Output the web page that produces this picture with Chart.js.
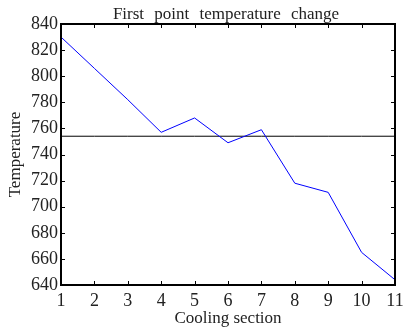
<!DOCTYPE html>
<html>
<head>
<meta charset="utf-8">
<script src="https://cdn.jsdelivr.net/npm/chart.js@4.4.1/dist/chart.umd.min.js"></script>
<style>
  html, body { margin: 0; padding: 0; background: #fff; }
  #wrap { width: 413px; height: 329px; }
</style>
</head>
<body>
<div id="wrap"><canvas id="myChart" width="413" height="329"></canvas></div>
<script>
// cooling sections and measured temperature of the first point
var sections = [1, 2, 3, 4, 5, 6, 7, 8, 9, 10, 11];
var temps = [830, 806, 782, 757, 768, 749, 759, 718, 711, 665, 644];
var refLevel = 754;
var yTicks = [640, 660, 680, 700, 720, 740, 760, 780, 800, 820, 840];
var titleText = 'First point temperature change';

var serif = "'Liberation Serif', 'DejaVu Serif', serif";

// frame round the plot plus inward ticks on all four sides, and the title
// centred over the plot area (matplotlib style)
var frameTicks = {
    id: 'frameTicks',
    afterDraw: function (chart) {
        var ctx = chart.ctx;
        var a = chart.chartArea;
        var xs = chart.scales.x, ys = chart.scales.y;
        var len = 4;
        ctx.save();
        ctx.strokeStyle = '#000';
        ctx.lineWidth = 1;
        ctx.beginPath();
        sections.forEach(function (v) {
            var px = Math.round(xs.getPixelForValue(v)) + 0.5;
            ctx.moveTo(px, a.bottom); ctx.lineTo(px, a.bottom - len);
            ctx.moveTo(px, a.top); ctx.lineTo(px, a.top + len);
        });
        yTicks.forEach(function (v) {
            var py = Math.round(ys.getPixelForValue(v)) + 0.5;
            ctx.moveTo(a.left, py); ctx.lineTo(a.left + len, py);
            ctx.moveTo(a.right, py); ctx.lineTo(a.right - len, py);
        });
        ctx.stroke();
        ctx.lineWidth = 2;
        ctx.strokeRect(a.left, a.top, a.right - a.left, a.bottom - a.top);

        ctx.fillStyle = '#222';
        ctx.font = '17px ' + serif;
        ctx.textAlign = 'center';
        ctx.textBaseline = 'alphabetic';
        if ('wordSpacing' in ctx) ctx.wordSpacing = '6px';
        ctx.fillText(titleText, (a.left + a.right) / 2 - 2, 19);
        ctx.restore();
    }
};

var ctx = document.getElementById('myChart').getContext('2d');
var chart = new Chart(ctx, {
    type: 'line',
    data: {
        datasets: [{
            label: 'Temperature',
            data: sections.map(function (s, i) { return { x: s, y: temps[i] }; }),
            borderColor: '#0000ff',
            borderWidth: 1,
            pointRadius: 0,
            tension: 0,
            fill: false
        }, {
            label: 'Reference',
            data: sections.map(function (s) { return { x: s, y: refLevel }; }),
            borderColor: '#000000',
            borderWidth: 1,
            pointRadius: 0,
            fill: false
        }]
    },
    options: {
        responsive: false,
        animation: false,
        layout: { padding: { left: 0, right: 18, top: 24, bottom: 0 } },
        plugins: {
            legend: { display: false },
            tooltip: { enabled: false },
            title: { display: false }
        },
        scales: {
            x: {
                type: 'linear',
                min: 1,
                max: 11,
                afterFit: function (scale) { scale.height = 44; },
                afterBuildTicks: function (scale) {
                    scale.ticks = sections.map(function (v) { return { value: v }; });
                },
                grid: { display: false, drawTicks: false },
                border: { display: false },
                ticks: {
                    color: '#222',
                    padding: 5,
                    maxRotation: 0,
                    autoSkip: false,
                    font: { family: serif, size: 18 }
                },
                title: {
                    display: true,
                    text: 'Cooling section',
                    color: '#222',
                    padding: { top: -2, bottom: 0 },
                    font: { family: serif, size: 17 }
                }
            },
            y: {
                min: 640,
                max: 840,
                afterFit: function (scale) { scale.width = 61; },
                afterBuildTicks: function (scale) {
                    scale.ticks = yTicks.map(function (v) { return { value: v }; });
                },
                grid: { display: false, drawTicks: false },
                border: { display: false },
                ticks: {
                    color: '#222',
                    padding: 3,
                    autoSkip: false,
                    font: { family: serif, size: 18 }
                },
                title: {
                    display: true,
                    text: 'Temperature',
                    color: '#222',
                    padding: { top: 5, bottom: 0 },
                    font: { family: serif, size: 17 }
                }
            }
        }
    },
    plugins: [frameTicks]
});
</script>
</body>
</html>
